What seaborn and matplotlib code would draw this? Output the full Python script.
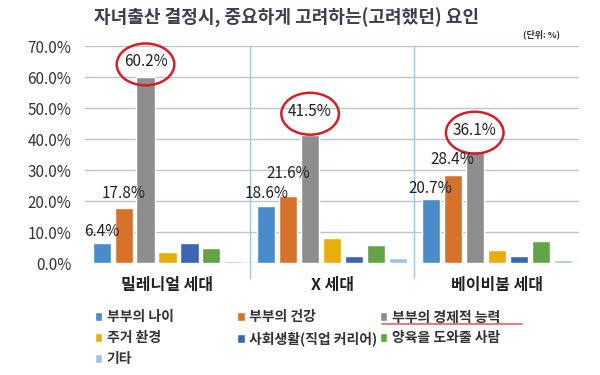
import matplotlib
matplotlib.use("Agg")
import matplotlib.pyplot as plt
from matplotlib.patches import Ellipse, Rectangle
from matplotlib.lines import Line2D
import numpy as np
import pandas as pd
import seaborn as sns

# data (%)
generations = ["밀레니얼 세대", "X 세대", "베이비붐 세대"]
factors = ["부부의 나이", "부부의 건강", "부부의 경제적 능력", "주거 환경",
           "사회생활(직업 커리어)", "양육을 도와줄 사람", "기타"]
millennial = [6.4, 17.8, 60.2, 3.5, 6.4, 4.8, 0.7]
gen_x = [18.6, 21.6, 41.5, 8.0, 2.4, 5.9, 1.6]
boomer = [20.7, 28.4, 36.1, 4.2, 2.4, 7.3, 1.0]
colors = ["#4a8bca", "#d7722c", "#8e8e8e", "#e8ae0c", "#3a66b3", "#62a346", "#a3c1e3"]

# how far above each bar top the labels sit (series x generation), in %
label_dy = [[3.7, 4.0, 3.3], [4.8, 7.2, 4.9], [4.7, 7.5, 6.8]]

rows = []
for g, vals in zip(generations, [millennial, gen_x, boomer]):
    for f, v in zip(factors, vals):
        rows.append({"세대": g, "요인": f, "비율": v})
df = pd.DataFrame(rows)

sns.set_style("white")
plt.rcParams["font.family"] = ["Noto Sans CJK KR", "DejaVu Sans"]

fig = plt.figure(figsize=(6, 3.75), dpi=100)
ax = fig.add_axes([0.142, 0.298, 0.823, 0.579])

sns.barplot(data=df, x="세대", y="비율", hue="요인", hue_order=factors,
            palette=colors, width=0.935, gap=0.18, saturation=1,
            legend=False, ax=ax)

ax.set_ylim(0, 70)
ax.set_xlim(-0.5, 2.5)
ax.set_yticks(np.arange(0, 71, 10))
ax.set_yticklabels([f"{t:.1f}%" for t in np.arange(0, 71, 10)])
ax.yaxis.grid(True, color="#bcc4cc", linewidth=1)
ax.set_axisbelow(True)
sns.despine(ax=ax, left=True, bottom=True)
ax.tick_params(axis="y", length=0, pad=10, labelsize=11, labelcolor="#333333")
ax.tick_params(axis="x", length=0, pad=10, labelsize=11.5, labelcolor="#222222")
for lab in ax.get_xticklabels():
    lab.set_fontweight("bold")
ax.set_xlabel("")
ax.set_ylabel("")

# group separators
for xs in [0.5, 1.5]:
    ax.axvline(xs, ymin=-0.07, ymax=1, color="#a9c4de", linewidth=1, clip_on=False)

# value labels on first three series
for s, c in enumerate(ax.containers[:3]):
    for j, bar in enumerate(c):
        cx = bar.get_x() + bar.get_width() / 2
        h = bar.get_height()
        ax.text(cx, h + label_dy[s][j], f"{h:.1f}%", ha="center", va="center",
                fontsize=11, color="#222222")
        if s == 2:
            # red circle around the economic ability label
            ax.add_patch(Ellipse((cx, h + label_dy[s][j] - 0.8), 0.35, 13.5,
                                 fill=False, edgecolor="#d0202a", linewidth=1.8,
                                 clip_on=False))

fig.text(0.477, 0.952, "자녀출산 결정시, 중요하게 고려하는(고려했던) 요인",
         ha="center", va="center", fontsize=13, fontweight="bold", color="#3e3e50")
fig.text(0.902, 0.908, "(단위: %)", ha="center", va="center",
         fontsize=6.5, fontweight="bold", color="#333333")

# legend in three columns
col_items = [[0, 3, 6], [1, 4], [2, 5]]
col_x = [0.158, 0.395, 0.633]
for items, x in zip(col_items, col_x):
    handles = [Rectangle((0, 0), 1, 1, facecolor=colors[i]) for i in items]
    labels = [factors[i] for i in items]
    leg = fig.legend(handles, labels, loc="upper left", bbox_to_anchor=(x, 0.172),
                     frameon=False, borderpad=0, borderaxespad=0,
                     handlelength=0.55, handleheight=0.55, handletextpad=0.3,
                     labelspacing=0.5, prop={"size": 10, "weight": "bold"})
    for t in leg.get_texts():
        t.set_color("#333333")

fig.add_artist(Line2D([382 / 600, 522 / 600], [1 - 324 / 375, 1 - 324 / 375],
                      color="#e06070", linewidth=1.2))

fig.savefig("out.png", dpi=100)
